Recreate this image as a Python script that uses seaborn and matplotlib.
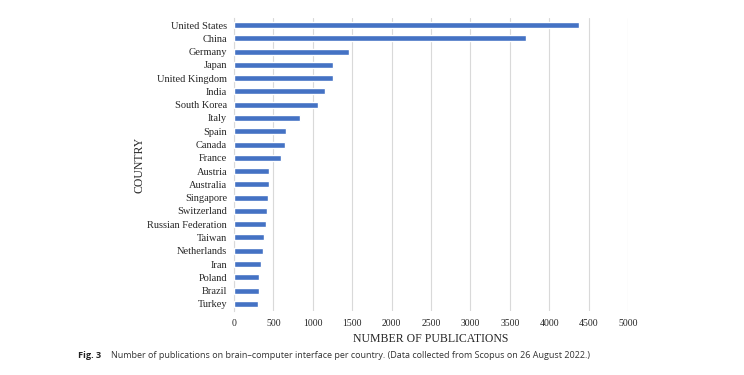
import matplotlib
matplotlib.use("Agg")
import matplotlib.pyplot as plt
import seaborn as sns
import pandas as pd

countries = ["United States", "China", "Germany", "Japan", "United Kingdom", "India",
             "South Korea", "Italy", "Spain", "Canada", "France", "Austria", "Australia",
             "Singapore", "Switzerland", "Russian Federation", "Taiwan", "Netherlands",
             "Iran", "Poland", "Brazil", "Turkey"]
publications = [4380, 3710, 1460, 1262, 1256, 1150, 1062, 842, 664, 651, 592, 448, 444,
                427, 419, 402, 385, 372, 347, 321, 317, 308]
x_ticks = [0, 500, 1000, 1500, 2000, 2500, 3000, 3500, 4000, 4500, 5000]

df = pd.DataFrame({"country": countries, "pubs": publications})

sns.set_style("white")
plt.rcParams["font.family"] = ["Liberation Serif", "DejaVu Serif"]

fig = plt.figure(figsize=(7.44, 3.75), dpi=100)
ax = fig.add_axes([0.3145, 0.172, 0.5297, 0.779])

sns.barplot(data=df, x="pubs", y="country", orient="h", color="#4472C4",
            width=0.45, saturation=1, ax=ax, zorder=3)

ax.set_xlim(0, 5000)
ax.set_xticks(x_ticks)
ax.set_xticklabels([str(t) for t in x_ticks], fontsize=7)
ax.tick_params(axis="y", labelsize=7.5, length=0, pad=5)
ax.tick_params(axis="x", length=0, pad=6)
ax.grid(axis="x", color="#d9d9d9", linewidth=0.8, zorder=0)
for s in ["top", "right", "bottom"]:
    ax.spines[s].set_visible(False)
ax.spines["left"].set_color("#d9d9d9")
ax.spines["left"].set_linewidth(0.8)

ax.set_xlabel("NUMBER OF PUBLICATIONS", fontsize=8.5, labelpad=4)
ax.set_ylabel("COUNTRY", fontsize=8.5)
ax.yaxis.set_label_coords(-0.225, 0.5)

fig.text(0.105, 0.046, "Fig. 3", fontsize=6.6, fontweight="bold",
         family=["Open Sans", "DejaVu Sans"], color="#222222")
fig.text(0.149, 0.046, "Number of publications on brain\u2013computer interface per country. "
         "(Data collected from Scopus on 26 August 2022.)",
         fontsize=6.45, family=["Open Sans", "DejaVu Sans"], color="#333333")

fig.savefig("out.png", dpi=100)
